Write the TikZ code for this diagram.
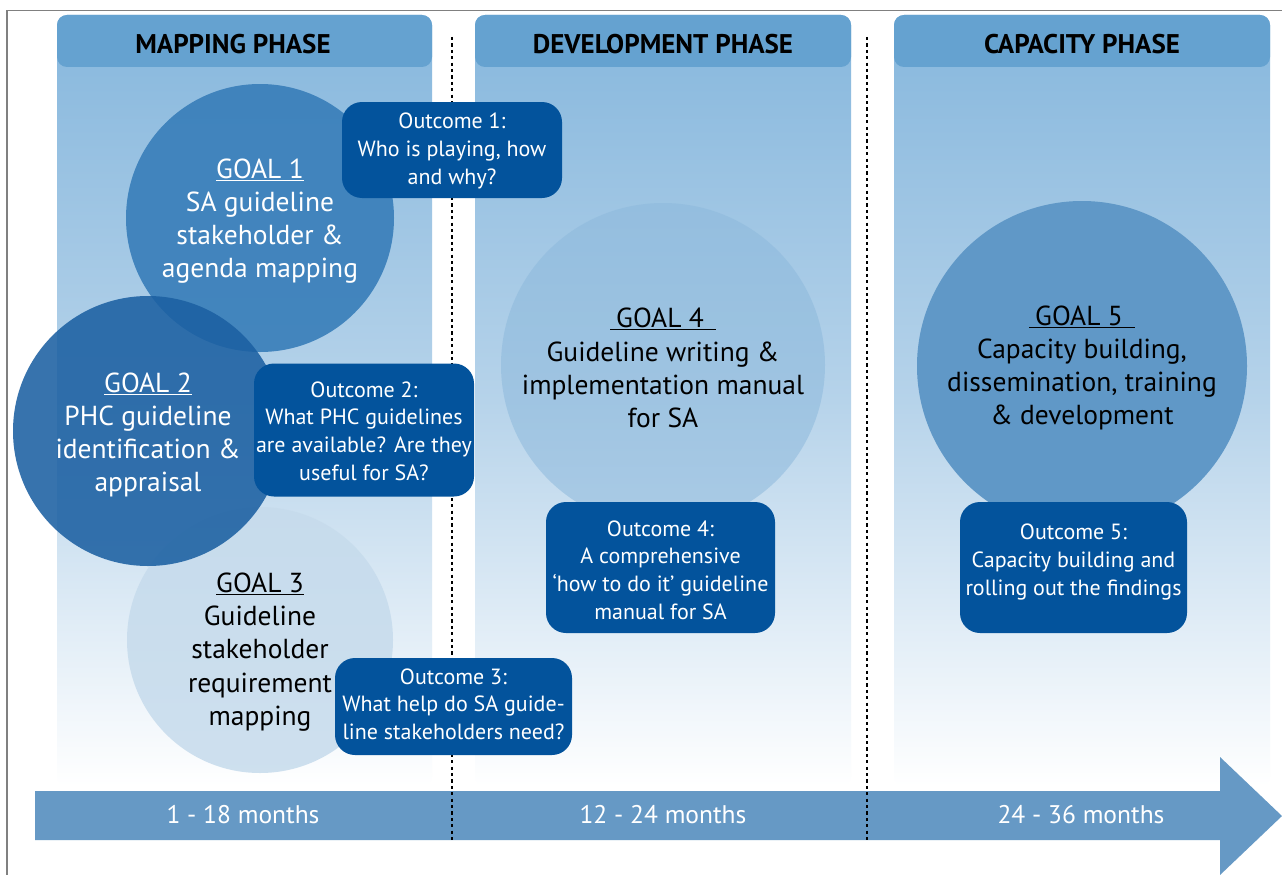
\documentclass[tikz,border=0pt]{standalone}
\usepackage{fontspec}
\setmainfont{PT Sans}
\definecolor{headblue}{HTML}{65A2D0}
\definecolor{paneltop}{HTML}{86B7DD}
\definecolor{panelmid}{HTML}{B6D3EA}
\definecolor{boxblue}{HTML}{03539C}
\definecolor{arrowblue}{HTML}{6699C5}
\definecolor{gonec}{HTML}{3A7FBA}
\definecolor{gtwoc}{HTML}{1C60A2}
\definecolor{gthreec}{HTML}{C6DBEC}
\definecolor{gfourc}{HTML}{8DB9DC}
\definecolor{gfivec}{HTML}{6098C7}
\definecolor{framegray}{HTML}{808080}
\newcommand{\goalfont}{\fontsize{27.5}{33.2}\selectfont}
\newcommand{\outfont}{\fontsize{22}{27.6}\selectfont}
\newcommand{\headfont}{\fontsize{27}{30}\selectfont\bfseries}
\begin{document}
\begin{tikzpicture}[x=1pt,y=-1pt,
  panelbody/.style={rounded corners=10pt, top color=paneltop, bottom color=white, middle color=panelmid, draw=none},
  panelhead/.style={rounded corners=10pt, fill=headblue, draw=none},
  headtext/.style={font=\headfont, text=black, inner sep=0pt},
  goalc/.style={circle, inner sep=0pt, minimum size=#1, draw=none},
  goaltext/.style={font=\goalfont, align=center, inner sep=0pt},
  outbox/.style={rounded corners=20pt, fill=boxblue, draw=none, inner sep=0pt},
  outtext/.style={font=\outfont, text=white, align=center, inner sep=0pt},
  divider/.style={line width=1.7pt, dash pattern=on 3.2pt off 3.2pt, draw=black},
  monthtext/.style={font=\fontsize{25.5}{28}\selectfont, text=white, inner sep=0pt}]
\useasboundingbox (0,0) rectangle (1282,875);
\fill[white] (0,0) rectangle (1282,875);
% frame
\draw[framegray, line width=1.2pt] (7,875) -- (7,10.5) -- (1282,10.5);
% panels
\shade[panelbody] (57,15) rectangle (432,786);
\shade[panelbody] (475,15) rectangle (851,786);
\shade[panelbody] (894,15) rectangle (1270,786);
\fill[panelhead] (57,15) rectangle (432,67);
\fill[panelhead] (475,15) rectangle (851,67);
\fill[panelhead] (894,15) rectangle (1270,67);
\node[headtext] (h1) at (233,44) {MAPPING PHASE};
\node[headtext] (h2) at (663,44) {DEVELOPMENT PHASE};
\node[headtext] (h3) at (1082,44) {CAPACITY PHASE};
% arrow
\fill[arrowblue] (35,791) -- (1220,791) -- (1220,757) -- (1282,816) -- (1220,875) -- (1220,840) -- (35,840) -- cycle;
\node[monthtext] (m1) at (243,815) {1 - 18 months};
\node[monthtext] (m2) at (663,815) {12 - 24 months};
\node[monthtext] (m3) at (1081,815) {24 - 36 months};
% dividers
\coordinate (d1a) at (452,37);
\coordinate (d1b) at (452,840);
\coordinate (d2a) at (867,37);
\coordinate (d2b) at (867,840);
\draw[divider] (d1a) -- (d1b);
\draw[divider] (d2a) -- (d2b);
% circles
\node[goalc=266pt, fill=gthreec, fill opacity=0.85] (g3) at (260,640) {};
\node[goalc=268pt, fill=gonec, fill opacity=0.92] (g1) at (260,218) {};
\node[goalc=270pt, fill=gtwoc, fill opacity=0.88] (g2) at (148,431) {};
\node[goalc=324pt, fill=gfourc, fill opacity=0.55] (g4) at (663,365) {};
\node[goalc=330pt, fill=gfivec] (g5) at (1082,366) {};
% goal texts
\node[goaltext, text=white] (t1) at (260,221) {\underline{GOAL 1}\\SA guideline\\stakeholder \&\\agenda mapping};
\node[goaltext, text=white] (t2) at (148,435) {\underline{GOAL 2}\\PHC guideline\\identification \&\\appraisal};
\node[goaltext, text=black] (t3) at (260,652) {\underline{GOAL 3}\\Guideline\\stakeholder\\requirement\\mapping};
\node[goaltext, text=black] (t4) at (663,368) {\underline{\hspace{6pt}GOAL 4\hspace{12pt}}\\Guideline writing \&\\implementation manual\\for SA};
\node[goaltext, text=black] (t5) at (1082,368) {\underline{\hspace{6pt}GOAL 5\hspace{12pt}}\\Capacity building,\\dissemination, training\\\& development};
% outcome boxes
\node[outbox, minimum width=220pt, minimum height=96pt] (o1) at (452,150) {};
\node[outtext] (ot1) at (452,151) {Outcome 1:\\Who is playing, how\\and why?};
\node[outbox, minimum width=220pt, minimum height=133pt] (o2) at (364,430) {};
\node[outtext] (ot2) at (364,431) {Outcome 2:\\What PHC guidelines\\are available? Are they\\useful for SA?};
\node[outbox, minimum width=237pt, minimum height=97pt] (o3) at (453.5,706.5) {};
\node[outtext] (ot3) at (453.5,704) {Outcome 3:\\What help do SA guide-\\line stakeholders need?};
\node[outbox, minimum width=229pt, minimum height=131pt] (o4) at (660.5,567.5) {};
\node[outtext] (ot4) at (660.5,570) {Outcome 4:\\A comprehensive\\‘how to do it’ guideline\\manual for SA};
\node[outbox, minimum width=227pt, minimum height=131pt] (o5) at (1073.5,567.5) {};
\node[outtext] (ot5) at (1073.5,562) {Outcome 5:\\Capacity building and\\rolling out the findings};
\end{tikzpicture}
\end{document}
